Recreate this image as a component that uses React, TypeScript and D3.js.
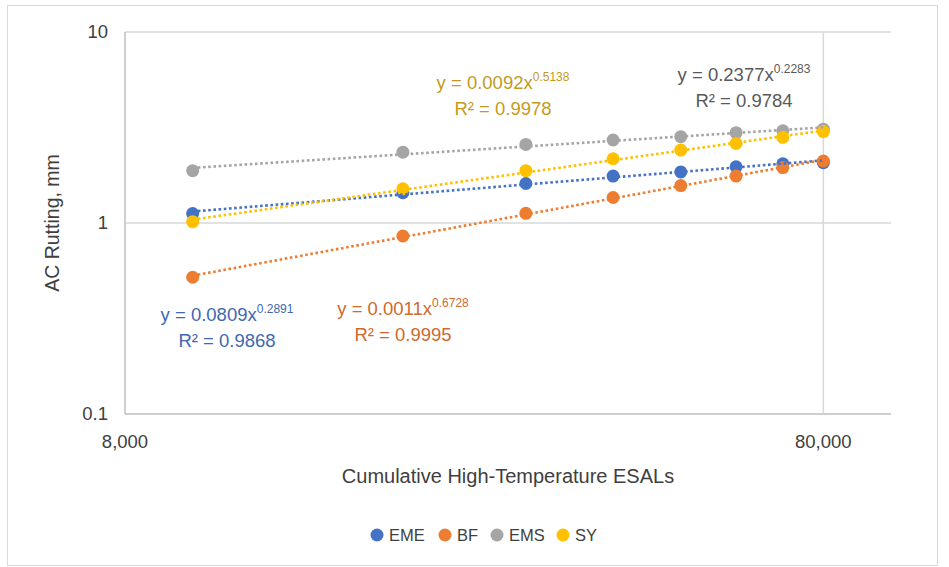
import React from "react";
import * as d3 from "d3";

// ESALs at each measurement
const esals = [10000, 20000, 30000, 40000, 50000, 60000, 70000, 80000];

// AC rutting (mm) per mix
const emeRut = [1.12, 1.44, 1.61, 1.76, 1.85, 1.97, 2.04, 2.07];
const bfRut = [0.52, 0.855, 1.124, 1.36, 1.57, 1.76, 1.95, 2.11];
const emsRut = [1.88, 2.35, 2.58, 2.72, 2.83, 2.97, 3.04, 3.1];
const syRut = [1.016, 1.51, 1.88, 2.17, 2.41, 2.61, 2.81, 3.01];

const seriesNames = ["EME", "BF", "EMS", "SY"];
const seriesColors = ["#4472C4", "#ED7D31", "#A5A5A5", "#FFC000"];
const labelColors = ["#4068b0", "#cf6a2c", "#595959", "#c49a1c"];

// trendline equation text, as printed on the chart
const eqCoef = ["0.0809", "0.0011", "0.2377", "0.0092"];
const eqExp = ["0.2891", "0.6728", "0.2283", "0.5138"];
const eqR2 = ["0.9868", "0.9995", "0.9784", "0.9978"];

const xTicks = [8000, 80000];
const yTicks = [0.1, 1, 10];

const W = 949;
const H = 567;
const margin = { left: 125, top: 32, right: 58, bottom: 153 };
const plotW = W - margin.left - margin.right;
const plotH = H - margin.top - margin.bottom;

// label anchor positions (chart pixels)
const labelPos = [
  [227, 321],
  [403, 315],
  [744, 81],
  [503, 89],
];

function powerFit(xs: number[], ys: number[]) {
  const lx = xs.map(Math.log);
  const ly = ys.map(Math.log);
  const mx = d3.mean(lx)!;
  const my = d3.mean(ly)!;
  const b =
    d3.sum(lx, (v, i) => (v - mx) * (ly[i] - my)) /
    d3.sum(lx, (v) => (v - mx) * (v - mx));
  const a = Math.exp(my - b * mx);
  return (x: number) => a * Math.pow(x, b);
}

export default function App() {
  const data = [emeRut, bfRut, emsRut, syRut];

  const x = d3.scaleLog().domain([8000, 100000]).range([0, plotW]);
  const y = d3.scaleLog().domain([0.1, 10]).range([plotH, 0]);

  const fmt = d3.format(",");
  const font = "'Liberation Sans', Arial, sans-serif";

  const trend = data.map((ys) => {
    const f = powerFit(esals, ys);
    const ends = d3.extent(esals) as [number, number];
    return d3
      .line<number>()
      .x((d) => x(d))
      .y((d) => y(f(d)))(ends);
  });

  return (
    <svg
      width={W}
      height={H}
      style={{ position: "absolute", left: 0, top: 0, fontFamily: font }}
    >
      <rect x={0} y={0} width={W} height={H} fill="#fff" />
      <rect
        x={7.5}
        y={5.5}
        width={930}
        height={560}
        fill="none"
        stroke="#d9d9d9"
        strokeWidth={1}
      />
      <g transform={`translate(${margin.left},${margin.top})`}>
        {/* gridlines */}
        {yTicks.map((t) => (
          <line
            key={"gy" + t}
            x1={0}
            x2={plotW}
            y1={y(t)}
            y2={y(t)}
            stroke={t === 0.1 ? "#bfbfbf" : "#d9d9d9"}
            strokeWidth={1.5}
          />
        ))}
        {xTicks.map((t) => (
          <line
            key={"gx" + t}
            x1={x(t)}
            x2={x(t)}
            y1={0}
            y2={plotH}
            stroke={t === 8000 ? "#bfbfbf" : "#d9d9d9"}
            strokeWidth={1.5}
          />
        ))}

        {/* tick labels */}
        {yTicks.map((t) => (
          <text
            key={"ty" + t}
            x={-17}
            y={y(t)}
            dy="0.35em"
            textAnchor="end"
            fontSize={18.5}
            fill="#404040"
          >
            {t}
          </text>
        ))}
        {xTicks.map((t) => (
          <text
            key={"tx" + t}
            x={x(t)}
            y={plotH + 28}
            dy="0.35em"
            textAnchor="middle"
            fontSize={18.5}
            fill="#404040"
          >
            {fmt(t)}
          </text>
        ))}

        {/* markers */}
        {data.map((ys, si) => (
          <g key={"m" + si} fill={seriesColors[si]}>
            {ys.map((v, i) => (
              <circle key={i} cx={x(esals[i])} cy={y(v)} r={6.5} />
            ))}
          </g>
        ))}

        {/* power trendlines */}
        {trend.map((d, si) => (
          <path
            key={"t" + si}
            d={d || ""}
            fill="none"
            stroke={seriesColors[si]}
            strokeWidth={2.6}
            strokeDasharray="2.6 2.6"
          />
        ))}
      </g>

      {/* trendline equations */}
      {labelPos.map(([lx, ly], si) => (
        <g key={"eq" + si} fill={labelColors[si]} fontSize={18.5}>
          <text x={lx} y={ly} textAnchor="middle">
            {"y = " + eqCoef[si] + "x"}
            <tspan fontSize={12} dy={-8}>
              {eqExp[si]}
            </tspan>
          </text>
          <text x={lx} y={ly + 26} textAnchor="middle">
            {"R² = " + eqR2[si]}
          </text>
        </g>
      ))}

      {/* axis titles */}
      <text
        x={508}
        y={476}
        dy="0.35em"
        textAnchor="middle"
        fontSize={20}
        fill="#404040"
      >
        Cumulative High-Temperature ESALs
      </text>
      <text
        transform={`translate(52,${margin.top + plotH / 2}) rotate(-90)`}
        dy="0.35em"
        textAnchor="middle"
        fontSize={19.5}
        fill="#404040"
      >
        AC Rutting, mm
      </text>

      {/* legend */}
      {seriesNames.map((n, i) => {
        const lx = [377, 445, 497, 563][i];
        return (
          <g key={"lg" + n} transform={`translate(${lx},535)`}>
            <circle r={6.5} fill={seriesColors[i]} />
            <text x={12} dy="0.35em" fontSize={16.5} fill="#404040">
              {n}
            </text>
          </g>
        );
      })}
    </svg>
  );
}
